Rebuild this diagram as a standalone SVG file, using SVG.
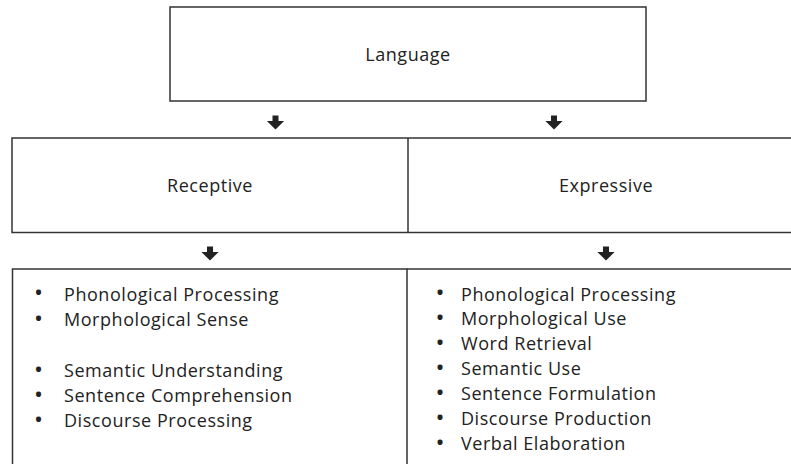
<svg xmlns="http://www.w3.org/2000/svg" width="791" height="464" viewBox="0 0 791 464">
<style>
  .box{fill:none;stroke:#333;stroke-width:1.5}
  .t{font-family:"Open Sans","Liberation Sans",sans-serif;font-size:18px;letter-spacing:0.55px;fill:#222}
  .c{text-anchor:middle}
  .b{font-family:"Open Sans","Liberation Sans",sans-serif;font-size:24px;fill:#222;text-anchor:middle}
  .arr{fill:#222}
</style>
<defs>
  <path id="dn" class="arr" d="M-3,0 H3 V5.5 H8.6 L0,14 L-8.6,5.5 H-3 Z"/>
</defs>
<rect width="791" height="464" fill="#fff"/>
<g id="language">
  <rect class="box" x="170" y="7" width="476" height="94"/>
  <text class="t c" x="408" y="60.5">Language</text>
</g>
<g id="receptive">
  <path class="box" d="M408,138 H12 V232.5 H408"/>
  <text class="t c" x="210" y="192">Receptive</text>
</g>
<g id="expressive">
  <path class="box" d="M408,138 V232.5 M408,138 H791 M408,232.5 H791"/>
  <text class="t c" x="606" y="192">Expressive</text>
</g>
<g id="receptive-list">
  <path class="box" d="M407,464 V269 H12.5 V464"/>
  <text class="t" x="64" y="300.5">Phonological Processing</text>
  <text class="t" x="64" y="326">Morphological Sense</text>
  <text class="t" x="64" y="377">Semantic Understanding</text>
  <text class="t" x="64" y="402">Sentence Comprehension</text>
  <text class="t" x="64" y="427">Discourse Processing</text>
  <g class="b">
    <text x="38.5" y="301">•</text>
    <text x="38.5" y="326.5">•</text>
    <text x="38.5" y="377.5">•</text>
    <text x="38.5" y="402.5">•</text>
    <text x="38.5" y="427.5">•</text>
  </g>
</g>
<g id="expressive-list">
  <path class="box" d="M407,269 H791"/>
  <text class="t" x="461" y="300.5">Phonological Processing</text>
  <text class="t" x="461" y="325">Morphological Use</text>
  <text class="t" x="461" y="350">Word Retrieval</text>
  <text class="t" x="461" y="375">Semantic Use</text>
  <text class="t" x="461" y="400">Sentence Formulation</text>
  <text class="t" x="461" y="425">Discourse Production</text>
  <text class="t" x="461" y="450">Verbal Elaboration</text>
  <g class="b">
    <text x="440" y="301">•</text>
    <text x="440" y="325.5">•</text>
    <text x="440" y="350.5">•</text>
    <text x="440" y="375.5">•</text>
    <text x="440" y="400.5">•</text>
    <text x="440" y="425.5">•</text>
    <text x="440" y="450.5">•</text>
  </g>
</g>
<g id="connectors">
  <use href="#dn" x="275.5" y="115.5"/>
  <use href="#dn" x="554" y="115.5"/>
  <use href="#dn" x="210" y="246.5"/>
  <use href="#dn" x="606" y="246.5"/>
</g>
</svg>
